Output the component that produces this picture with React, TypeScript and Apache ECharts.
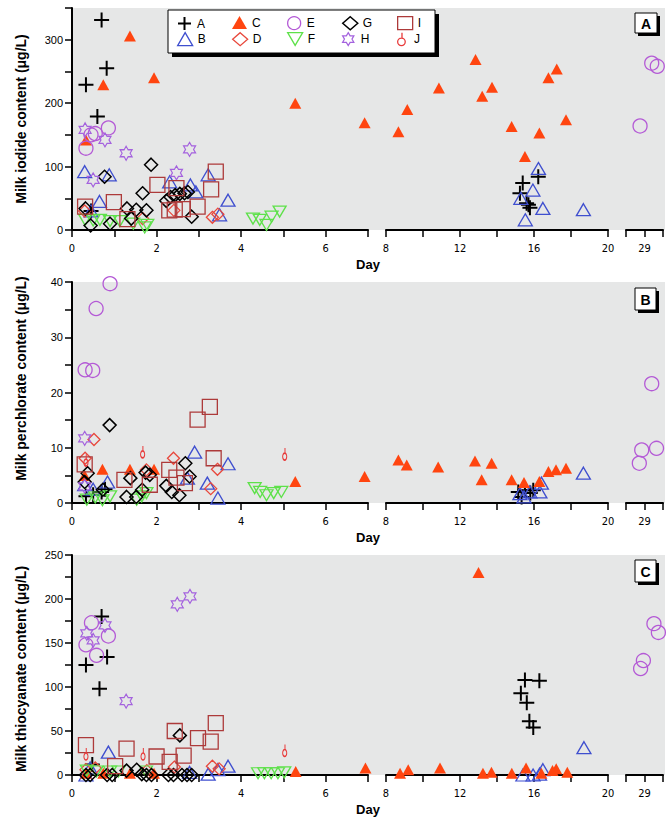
import React, { useEffect, useRef } from 'react';
import * as echarts from 'echarts';

type Pt = [number, number];

// ---------- Panel A: milk iodide (µg/L) ----------
const iodideA: Pt[] = [[0.70, 331], [0.33, 229], [0.82, 255], [0.60, 179], [0.45, 30], [15.39, 74], [15.24, 58], [16.23, 84], [15.6, 42], [15.78, 35], [15.7, 40]];
const iodideB: Pt[] = [[0.3, 92], [0.88, 87], [0.65, 45], [0.45, 30], [2.31, 76], [2.8, 71], [2.93, 60], [3.22, 87], [3.69, 47], [3.49, 24], [16.24, 97], [15.94, 63], [15.29, 50], [15.53, 16], [16.48, 34], [18.67, 32]];
const iodideC: Pt[] = [[1.37, 306], [0.74, 229], [1.94, 240], [0.33, 142], [5.28, 200], [6.92, 169], [8.67, 155], [9.15, 190], [10.86, 224], [12.84, 269], [13.2, 211], [13.73, 225], [14.79, 163], [15.51, 116], [16.29, 153], [16.78, 240], [17.23, 254], [17.73, 174]];
const iodideD: Pt[] = [[0.3, 30], [1.67, 18], [2.41, 31], [3.32, 20], [3.45, 25]];
const iodideE: Pt[] = [[0.33, 129], [0.45, 150], [0.55, 152], [0.86, 161], [29.39, 263], [29.69, 258], [28.76, 164]];
const iodideF: Pt[] = [[0.31, 16], [0.5, 15], [0.66, 16], [0.9, 14], [1.13, 14], [1.45, 10], [1.72, 4], [1.78, 8], [4.28, 18], [4.44, 16], [4.6, 8], [4.72, 21], [4.91, 29]];
const iodideG: Pt[] = [[0.32, 34], [0.44, 7], [0.77, 84], [0.9, 10], [1.3, 34], [1.4, 18], [1.52, 32], [1.67, 58], [1.76, 31], [1.87, 103], [2.23, 46], [2.33, 52], [2.44, 55], [2.55, 57], [2.66, 58], [2.74, 60], [2.83, 21]];
const iodideH: Pt[] = [[0.31, 158], [0.5, 79], [0.78, 142], [1.28, 121], [2.47, 90], [2.78, 127]];
const iodideI: Pt[] = [[0.31, 37], [0.99, 44], [2.02, 71], [2.47, 66], [2.43, 32], [2.62, 33], [2.97, 37], [3.29, 64], [3.4, 92], [1.31, 17], [2.3, 31]];
const iodideJ: Pt[] = [];

// ---------- Panel B: milk perchlorate (µg/L) ----------
const perchlorateA: Pt[] = [[0.33, 1.2], [0.5, 1.5], [0.7, 2.0], [0.78, 2.5], [15.15, 2.0], [15.51, 2.3], [15.96, 2.3], [15.33, 1.1], [15.8, 1.8]];
const perchlorateB: Pt[] = [[0.3, 3.3], [0.5, 2.5], [0.84, 3.8], [2.73, 4.5], [2.9, 9.2], [3.2, 3.6], [3.45, 0.9], [3.69, 7.1], [15.24, 1.7], [15.46, 1.1], [15.78, 2.0], [16.32, 2.0], [16.4, 3.6], [18.67, 5.4]];
const perchlorateC: Pt[] = [[0.3, 5.0], [0.72, 6.1], [1.37, 6.1], [1.94, 6.1], [5.28, 3.9], [6.92, 4.8], [8.67, 7.8], [9.12, 6.9], [10.82, 6.5], [12.81, 7.6], [13.17, 4.2], [13.71, 7.2], [14.79, 4.2], [15.46, 3.7], [16.29, 3.9], [16.78, 5.7], [17.19, 6.0], [17.73, 6.3]];
const perchlorateD: Pt[] = [[0.52, 11.5], [0.31, 8.1], [1.76, 6.0], [2.4, 8.1], [3.44, 6.1], [3.28, 2.6]];
const perchlorateE: Pt[] = [[0.9, 39.7], [0.57, 35.2], [0.31, 24.1], [0.49, 24.0], [29.39, 21.6], [28.85, 9.6], [28.72, 7.2], [29.65, 9.9]];
const perchlorateF: Pt[] = [[0.35, 0.6], [0.55, 1.0], [0.72, 0.5], [0.9, 1.2], [1.53, 0.6], [1.65, 1.2], [1.76, 1.8], [4.32, 2.7], [4.45, 2.0], [4.6, 1.4], [4.77, 1.8], [4.95, 2.0]];
const perchlorateG: Pt[] = [[0.89, 14.1], [0.37, 5.4], [0.3, 3.8], [0.73, 2.4], [1.38, 4.5], [1.29, 1.1], [1.52, 1.1], [1.66, 2.4], [1.74, 5.5], [1.84, 5.1], [2.23, 3.1], [2.36, 2.0], [2.54, 1.4], [2.68, 7.2], [2.78, 4.8]];
const perchlorateH: Pt[] = [[0.3, 11.7], [0.3, 3.0]];
const perchlorateI: Pt[] = [[0.3, 7.0], [1.24, 4.2], [2.3, 6.0], [2.47, 4.6], [2.97, 15.1], [3.26, 17.4], [3.35, 8.1], [1.84, 3.3], [2.67, 3.6]];
const perchlorateJ: Pt[] = [[0.33, 7.3], [1.67, 8.8], [5.03, 8.4]];

// ---------- Panel C: milk thiocyanate (µg/L) ----------
const thiocyanateA: Pt[] = [[0.7, 180], [0.33, 125], [0.83, 134], [0.65, 98], [0.48, 12], [15.51, 108], [16.29, 107], [15.29, 93], [15.61, 82], [15.75, 61], [15.96, 54]];
const thiocyanateB: Pt[] = [[0.86, 26], [0.43, 8], [0.33, 0], [2.78, 3], [3.22, 1], [3.45, 6], [3.69, 10], [15.4, 0], [15.95, 0], [16.48, 6], [16.3, 1], [18.7, 31]];
const thiocyanateC: Pt[] = [[0.33, 2], [0.74, 2], [1.37, 2], [1.94, 2], [5.29, 4], [6.94, 8], [8.76, 2], [9.2, 6], [10.92, 8], [13.0, 230], [13.24, 2], [13.7, 3], [14.8, 2], [15.57, 8], [16.4, 2], [17.0, 5], [17.2, 7], [17.8, 3]];
const thiocyanateD: Pt[] = [[0.33, 6], [0.55, 8], [1.77, 5], [2.42, 9], [3.32, 10], [3.48, 7]];
const thiocyanateE: Pt[] = [[0.46, 173], [0.33, 148], [0.58, 136], [0.86, 158], [29.51, 172], [29.75, 162], [28.94, 130], [28.79, 121]];
const thiocyanateF: Pt[] = [[0.35, 5], [0.58, 4], [0.9, 4], [1.1, 4], [1.75, 4], [4.4, 2], [4.55, 2], [4.71, 2], [4.87, 2], [5.02, 3]];
const thiocyanateG: Pt[] = [[0.33, 0], [0.43, 0], [0.83, 0], [0.95, 0], [1.29, 5], [1.53, 6], [1.65, 1], [1.76, 0], [1.88, 0], [2.28, 0], [2.4, 0], [2.55, 45], [2.6, 0], [2.72, 0], [2.83, 0]];
const thiocyanateH: Pt[] = [[2.49, 194], [2.79, 203], [1.28, 84], [0.35, 161], [0.5, 153], [0.78, 170]];
const thiocyanateI: Pt[] = [[0.33, 34], [1.29, 30], [1.02, 10], [2.0, 21], [2.43, 50], [2.64, 22], [2.98, 42], [3.28, 38], [3.4, 59], [2.31, 15]];
const thiocyanateJ: Pt[] = [[0.33, 21], [1.68, 21], [5.03, 25]];

const groups = ['A', 'B', 'C', 'D', 'E', 'F', 'G', 'H', 'I', 'J'];
const panelTags = ['A', 'B', 'C'];
const yTitles = ['Milk iodide content (μg/L)', 'Milk perchlorate content (μg/L)', 'Milk thiocyanate content (μg/L)'];
const yMax = [350, 40, 250];
const yTickStep = [50, 5, 25];
const yLabelStep = [100, 10, 50];
const xSegMin = [0, 8, 28];
const xSegMax = [7, 20, 30];
const xSegStep = [1, 2, 1];
const xSegLabels = [[0, 2, 4, 6], [8, 12, 16, 20], [29]];
const xTitle = 'Day';

const panelData: Pt[][][] = [
  [iodideA, iodideB, iodideC, iodideD, iodideE, iodideF, iodideG, iodideH, iodideI, iodideJ],
  [perchlorateA, perchlorateB, perchlorateC, perchlorateD, perchlorateE, perchlorateF, perchlorateG, perchlorateH, perchlorateI, perchlorateJ],
  [thiocyanateA, thiocyanateB, thiocyanateC, thiocyanateD, thiocyanateE, thiocyanateF, thiocyanateG, thiocyanateH, thiocyanateI, thiocyanateJ],
];

// ---------- layout & style ----------
const FONT = "'Liberation Sans', Arial, Helvetica, sans-serif";
const NARROW = "'Liberation Sans Narrow', 'DejaVu Sans Condensed', 'Liberation Sans', sans-serif";
const PANEL_TOP = [8, 282, 555];
const PANEL_H = [222, 221, 220];
const SEG_LEFT = [72, 386, 626];
const SEG_W = [296, 222, 37];
const BG_LEFT = 72;
const BG_RIGHT = 665;
const TAG_BOX = [[635, 13, 22, 20], [635, 288, 21, 22], [635, 560, 21, 22]];
const TITLE_SHIFT = [0, 14, -4];

const HEX = 'path://M10,0L12.887,5L18.66,5L15.774,10L18.66,15L12.887,15L10,20L7.113,15L1.34,15L4.226,10L1.34,5L7.113,5Z';
const PLUS = 'path://M0,5L10,5M5,0L5,10';
const LOLLI = 'path://M4,0L4,5M7,8.5A3.5,3.5,0,1,1,0,8.5A3.5,3.5,0,1,1,7,8.5Z';
const DOWN = 'path://M0,0L10,0L5,8.5Z';

type Sty = { symbol: string; size: number | number[]; fill: string; stroke: string; lw: number; offset?: number[] };
const STYLES: Record<string, Sty> = {
  A: { symbol: PLUS, size: [15, 15], fill: 'transparent', stroke: '#000000', lw: 2 },
  B: { symbol: 'triangle', size: [14, 12], fill: 'transparent', stroke: '#3f4fcf', lw: 1.3 },
  C: { symbol: 'triangle', size: [12, 11], fill: '#ff4510', stroke: '#ff4510', lw: 0 },
  D: { symbol: 'diamond', size: [12, 12], fill: 'transparent', stroke: '#e8483c', lw: 1.3 },
  E: { symbol: 'circle', size: 14, fill: 'transparent', stroke: '#b45ad6', lw: 1.3 },
  F: { symbol: DOWN, size: [13, 11], fill: 'transparent', stroke: '#5ee14a', lw: 1.3 },
  G: { symbol: 'diamond', size: [13, 13], fill: 'transparent', stroke: '#000000', lw: 1.5 },
  H: { symbol: HEX, size: [12, 14], fill: 'transparent', stroke: '#a462de', lw: 1.2 },
  I: { symbol: 'rect', size: [15, 15], fill: 'transparent', stroke: '#ad3a3a', lw: 1.3 },
  J: { symbol: LOLLI, size: [7, 12], fill: 'transparent', stroke: '#e83a3a', lw: 1.3, offset: [0, -2.5] },
};

function segOf(day: number): number {
  if (day < 7.5) return 0;
  if (day < 24) return 1;
  return 2;
}

function buildOption() {
  const grid: any[] = [];
  const xAxis: any[] = [];
  const yAxis: any[] = [];
  const series: any[] = [];
  const graphic: any[] = [];

  for (let p = 0; p < 3; p++) {
    for (let s = 0; s < 3; s++) {
      const idx = p * 3 + s;
      grid.push({ left: SEG_LEFT[s], top: PANEL_TOP[p], width: SEG_W[s], height: PANEL_H[p], containLabel: false, show: false });
      const labels = xSegLabels[s];
      xAxis.push({
        type: 'value', gridIndex: idx, min: xSegMin[s], max: xSegMax[s], interval: xSegStep[s],
        axisLine: { show: true, onZero: false, lineStyle: { color: '#000', width: 2 } },
        axisTick: { show: true, length: 7, lineStyle: { color: '#000', width: 1.5 } },
        axisLabel: {
          show: true, margin: 13, fontSize: 11, fontFamily: NARROW, color: '#000',
          showMinLabel: true, showMaxLabel: true,
          formatter: (v: number) => (labels.indexOf(Math.round(v)) >= 0 ? String(Math.round(v)) : ''),
        },
        splitLine: { show: false },
      });
      const ls = yLabelStep[p];
      yAxis.push({
        type: 'value', gridIndex: idx, min: 0, max: yMax[p], interval: yTickStep[p], show: s === 0,
        name: s === 0 ? yTitles[p] : '', nameLocation: 'middle', nameGap: 44,
        nameTextStyle: { fontSize: 14, fontWeight: 'bold', fontFamily: FONT, color: '#000', padding: [0, 0, 0, TITLE_SHIFT[p] * 2] },
        axisLine: { show: true, lineStyle: { color: '#000', width: 2 } },
        axisTick: { show: true, length: 7, lineStyle: { color: '#000', width: 1.5 } },
        axisLabel: {
          margin: 9, fontSize: 11, fontFamily: FONT, color: '#000',
          formatter: (v: number) => (Math.abs(v / ls - Math.round(v / ls)) < 1e-6 ? String(v) : ''),
        },
        splitLine: { show: false },
      });
    }

    groups.forEach((g, gi) => {
      const pts = panelData[p][gi];
      const st = STYLES[g];
      for (let s = 0; s < 3; s++) {
        const sub = pts.filter((d) => segOf(d[0]) === s);
        if (sub.length === 0 && !(p === 0 && s === 0)) continue;
        series.push({
          type: 'scatter', name: g, xAxisIndex: p * 3 + s, yAxisIndex: p * 3 + s,
          data: sub, symbol: st.symbol, symbolSize: st.size, symbolOffset: st.offset || [0, 0],
          symbolKeepAspect: g === 'J',
          clip: false,
          itemStyle: { color: st.fill, borderColor: st.stroke, borderWidth: st.lw, opacity: 1 },
          emphasis: { disabled: true },
        });
      }
    });

    // grey plotting background
    graphic.push({
      type: 'rect', z: -5, silent: true,
      shape: { x: BG_LEFT, y: PANEL_TOP[p], width: BG_RIGHT - BG_LEFT, height: PANEL_H[p] },
      style: { fill: '#e6e7e7' },
    });
    // panel tag box with shadow
    const [bx, by, bw, bh] = TAG_BOX[p];
    graphic.push({ type: 'rect', z: 5, shape: { x: bx + 3, y: by + 3, width: bw, height: bh }, style: { fill: '#000' } });
    graphic.push({ type: 'rect', z: 6, shape: { x: bx, y: by, width: bw, height: bh }, style: { fill: '#fff', stroke: '#000', lineWidth: 1 } });
    graphic.push({
      type: 'text', z: 7, x: bx + bw / 2, y: by + bh / 2 + 1,
      style: { text: panelTags[p], fontSize: 14, fontWeight: 'bold', fontFamily: FONT, fill: '#000', align: 'center', verticalAlign: 'middle' },
    });
    // x title
    graphic.push({
      type: 'text', z: 7, x: 368, y: PANEL_TOP[p] + PANEL_H[p] + 34,
      style: { text: xTitle, fontSize: 13, fontWeight: 'bold', fontFamily: FONT, fill: '#000', align: 'center', verticalAlign: 'middle' },
    });
  }

  // legend box with shadow
  graphic.push({ type: 'rect', z: 5, shape: { x: 172, y: 14, width: 267, height: 43 }, style: { fill: '#000' } });
  graphic.push({ type: 'rect', z: 6, shape: { x: 168, y: 10, width: 267, height: 43 }, style: { fill: '#fff', stroke: '#000', lineWidth: 1 } });

  const legend = groups.map((g, i) => {
    const col = Math.floor(i / 2);
    const row = i % 2;
    const st = STYLES[g];
    return {
      show: true, z: 10, left: 177 + col * 55, top: 16 + row * 16, padding: 0,
      itemWidth: 15, itemHeight: 13, itemGap: 0, selectedMode: false,
      textStyle: { fontSize: 12, fontFamily: FONT, color: '#000' },
      itemStyle: { borderWidth: st.lw === 0 ? 0 : st.lw },
      data: [{ name: g }],
    };
  });

  return {
    animation: false,
    backgroundColor: '#ffffff',
    grid, xAxis, yAxis, series, legend, graphic,
    tooltip: { show: false },
  };
}

export default function App() {
  const ref = useRef<HTMLDivElement>(null);
  useEffect(() => {
    if (!ref.current) return;
    const chart = echarts.init(ref.current, null, { renderer: 'svg' });
    chart.setOption(buildOption() as any);
    return () => chart.dispose();
  }, []);
  return <div ref={ref} style={{ position: 'absolute', left: 0, top: 0, width: 671, height: 821 }} />;
}
